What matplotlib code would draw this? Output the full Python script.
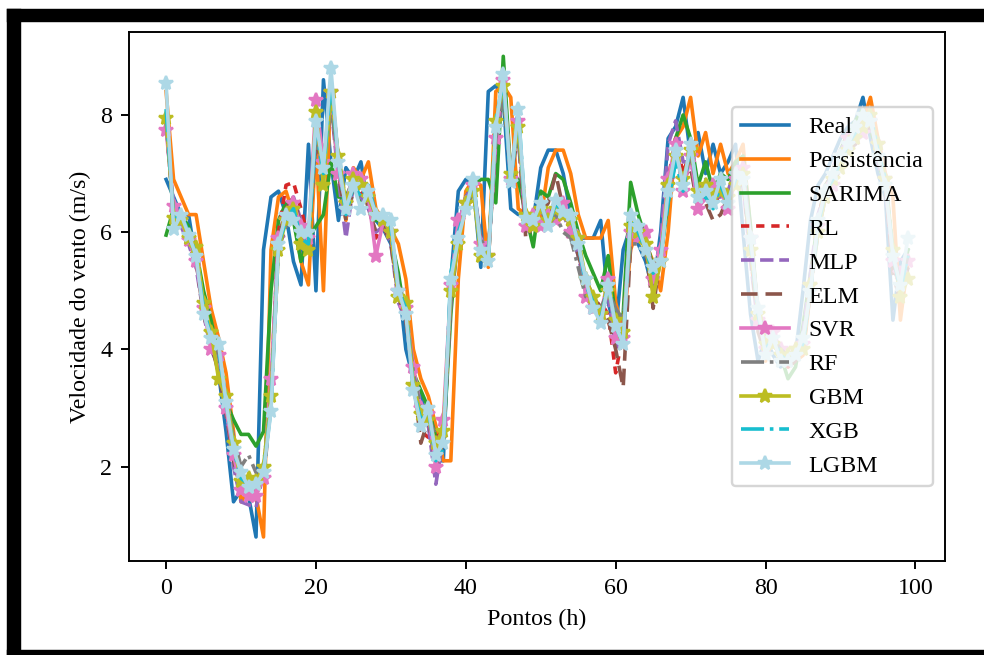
import matplotlib
matplotlib.use("Agg")
import matplotlib.pyplot as plt

plt.rcParams['font.family'] = 'serif'
plt.rcParams['font.serif'] = ['Liberation Serif', 'DejaVu Serif']

pontos = list(range(100))

real = [6.9, 6.6, 6.3, 6.3, 5.5, 4.7, 4.2, 3.6, 2.6, 1.4,
        1.6, 1.5, 0.8, 5.7, 6.6, 6.7, 6.3, 5.5, 5.1, 7.5,
        5.0, 8.6, 7.2, 6.2, 7.1, 6.9, 7.2, 6.4, 6.2, 6.05,
        5.8, 5.2, 4.0, 3.5, 3.2, 2.7, 2.1, 2.1, 5.2, 6.7,
        6.9, 6.8, 5.4, 8.4, 8.5, 8.3, 6.4, 6.3, 6.3, 6.2,
        7.1, 7.4, 7.4, 7.0, 6.3, 5.9, 5.9, 5.9, 6.2, 4.8,
        4.3, 5.7, 6.1, 5.8, 5.5, 5.0, 6.0, 7.6, 7.8, 8.3,
        7.3, 7.7, 7.0, 7.5, 7.0, 7.2, 7.5, 6.0, 4.6, 3.8,
        4.2, 3.9, 3.7, 3.8, 3.9, 5.0, 6.2, 6.8, 7.0, 7.3,
        7.6, 7.8, 7.9, 8.3, 7.6, 7.0, 6.6, 4.5, 5.5, 5.7]

persistencia = [8.4, 6.9, 6.6, 6.3, 6.3, 5.5, 4.7, 4.2, 3.6, 2.6,
                1.4, 1.6, 1.5, 0.8, 5.7, 6.6, 6.7, 6.3, 5.5, 5.1,
                7.5, 5.0, 8.6, 7.2, 6.2, 7.1, 6.9, 7.2, 6.4, 6.2,
                6.05, 5.8, 5.2, 4.0, 3.5, 3.2, 2.7, 2.1, 2.1, 5.2,
                6.7, 6.9, 6.8, 5.4, 8.4, 8.5, 8.3, 6.4, 6.3, 6.3,
                6.2, 7.1, 7.4, 7.4, 7.0, 6.3, 5.9, 5.9, 5.9, 6.2,
                4.8, 4.3, 5.7, 6.1, 5.8, 5.5, 5.0, 6.0, 7.6, 7.8,
                8.3, 7.3, 7.7, 7.0, 7.5, 7.0, 7.2, 7.5, 6.0, 4.6,
                3.8, 4.2, 3.9, 3.7, 3.8, 3.9, 5.0, 6.2, 6.8, 7.0,
                7.3, 7.6, 7.8, 7.9, 8.3, 7.6, 7.0, 6.6, 4.5, 5.5]

sarima = [5.95, 6.4, 6.3, 6.1, 5.7, 5.0, 4.5, 3.9, 3.1, 2.8,
          2.55, 2.55, 2.35, 2.6, 5.0, 6.2, 6.5, 6.2, 5.5, 5.9,
          6.1, 6.3, 7.2, 6.6, 6.6, 6.9, 6.5, 6.7, 6.2, 6.2,
          5.9, 5.3, 4.5, 3.6, 3.3, 3.0, 2.5, 2.4, 4.6, 6.1,
          6.6, 6.8, 6.9, 6.9, 6.5, 9.0, 7.0, 6.9, 6.3, 5.75,
          6.7, 6.6, 7.0, 6.9, 6.5, 6.0, 5.6, 5.3, 5.0, 5.6,
          4.5, 4.6, 6.85, 6.3, 5.9, 5.4, 5.6, 6.5, 7.6, 8.0,
          7.6, 6.8, 7.2, 6.7, 7.0, 6.9, 7.2, 7.3, 6.1, 4.6,
          4.0, 4.1, 3.9, 3.5, 3.7, 4.4, 5.3, 6.2, 6.8, 7.0,
          7.4, 7.7, 7.9, 8.1, 7.8, 7.2, 6.8, 5.6, 5.0, 5.7]

rl = [7.9, 6.3, 6.2, 5.8, 5.5, 4.8, 4.1, 3.8, 3.0, 2.2,
      1.7, 1.6, 1.6, 1.8, 3.3, 6.0, 6.8, 6.85, 6.4, 5.9,
      7.6, 7.1, 8.3, 7.1, 6.3, 6.9, 6.7, 6.5, 5.9, 6.2,
      5.9, 4.9, 4.6, 3.4, 2.6, 2.5, 2.5, 2.6, 4.9, 6.0,
      6.5, 6.8, 5.8, 5.6, 7.7, 8.5, 7.0, 7.8, 6.2, 6.3,
      6.4, 6.2, 6.6, 6.2, 6.1, 5.7, 5.0, 4.7, 4.8, 4.6,
      3.6, 4.3, 6.2, 5.9, 5.8, 5.2, 5.5, 6.9, 7.6, 7.0,
      7.4, 6.5, 6.8, 6.4, 6.7, 6.6, 7.0, 6.9, 5.6, 4.5,
      4.1, 4.3, 3.9, 3.7, 3.9, 4.2, 5.2, 6.2, 6.8, 7.0,
      7.3, 7.6, 7.8, 7.8, 7.9, 7.3, 6.8, 5.5, 5.0, 5.4]

mlp = [7.8, 6.4, 6.1, 5.8, 5.4, 4.6, 4.0, 3.7, 2.9, 2.0,
       1.4, 1.35, 1.3, 1.9, 3.3, 5.9, 6.3, 6.6, 6.2, 5.9,
       7.7, 6.9, 8.2, 6.9, 5.9, 6.8, 6.6, 6.4, 6.0, 6.1,
       5.8, 4.8, 4.5, 3.5, 2.7, 2.7, 1.7, 2.5, 4.8, 6.1,
       6.6, 6.8, 5.9, 5.7, 7.5, 8.4, 7.1, 7.6, 6.0, 6.3,
       6.2, 6.3, 6.4, 6.3, 6.0, 5.6, 5.0, 4.6, 4.6, 4.9,
       4.0, 4.4, 6.1, 6.2, 5.9, 5.1, 5.8, 7.5, 7.9, 7.2,
       7.2, 6.7, 6.9, 6.6, 6.6, 6.7, 7.1, 6.8, 5.5, 4.4,
       4.2, 4.2, 3.8, 3.8, 4.0, 4.3, 5.3, 6.3, 6.7, 7.1,
       7.4, 7.6, 7.7, 7.9, 7.8, 7.2, 6.7, 5.4, 5.1, 5.5]

elm = [7.9, 6.3, 6.3, 5.9, 5.5, 4.6, 4.1, 3.6, 2.9, 2.1,
       1.6, 1.7, 1.6, 1.7, 3.2, 5.9, 6.4, 6.6, 6.1, 5.8,
       7.6, 7.0, 8.3, 7.0, 6.2, 6.7, 6.9, 6.4, 6.0, 6.1,
       5.8, 4.9, 4.5, 3.5, 2.4, 2.8, 2.0, 2.4, 4.9, 6.1,
       6.4, 6.7, 5.9, 5.5, 7.6, 8.5, 6.9, 7.7, 5.9, 6.1,
       6.3, 6.5, 7.0, 6.4, 6.1, 5.6, 5.2, 4.9, 4.7, 4.5,
       4.0, 3.35, 5.8, 6.0, 5.7, 4.7, 5.6, 6.7, 7.4, 6.9,
       7.1, 6.4, 6.5, 6.2, 6.3, 6.6, 6.9, 6.8, 5.7, 4.3,
       3.9, 4.1, 4.0, 3.7, 3.8, 4.0, 5.0, 6.0, 6.6, 6.8,
       7.1, 7.4, 7.5, 7.7, 7.8, 7.3, 6.8, 5.3, 4.8, 5.4]

svr = [7.75, 6.45, 6.2, 5.87, 5.5, 4.7, 4.0, 3.9, 3.0, 2.2,
       1.6, 1.5, 1.5, 1.8, 3.5, 5.9, 6.2, 6.5, 6.1, 5.9,
       8.25, 7.2, 8.4, 7.0, 6.5, 7.0, 6.9, 6.6, 5.6, 6.2,
       6.0, 5.0, 4.7, 3.7, 3.0, 2.9, 2.0, 2.8, 5.1, 6.2,
       6.5, 6.8, 5.8, 5.6, 7.6, 8.6, 6.9, 7.9, 6.1, 6.3,
       6.1, 6.3, 6.2, 6.5, 6.0, 5.9, 4.9, 4.7, 4.6, 5.2,
       4.2, 4.2, 6.0, 5.9, 6.0, 5.2, 5.7, 6.9, 7.5, 6.7,
       7.3, 6.4, 6.6, 6.8, 6.7, 6.4, 6.9, 7.1, 5.9, 4.5,
       4.0, 4.3, 4.0, 3.9, 4.0, 4.1, 5.1, 6.1, 6.6, 6.8,
       7.3, 7.6, 7.6, 7.7, 7.9, 7.5, 6.9, 5.5, 5.3, 5.5]

rf = [7.9, 6.3, 6.2, 5.9, 5.6, 4.8, 4.2, 3.9, 3.2, 2.5,
      2.0, 2.2, 1.9, 2.0, 3.2, 5.7, 6.1, 6.2, 6.0, 5.9,
      7.5, 7.3, 8.1, 7.3, 6.5, 6.7, 6.6, 6.6, 6.3, 6.2,
      6.0, 5.1, 4.7, 3.6, 3.0, 2.9, 2.5, 2.5, 4.8, 5.9,
      6.4, 6.7, 5.9, 5.6, 7.6, 8.3, 7.1, 7.6, 6.3, 6.2,
      6.4, 6.1, 6.3, 6.0, 5.9, 5.4, 4.9, 4.8, 4.7, 5.0,
      4.7, 4.5, 5.8, 5.8, 5.6, 5.4, 5.6, 6.6, 7.2, 6.9,
      7.3, 6.7, 6.7, 6.6, 6.8, 6.6, 6.9, 6.9, 5.9, 4.7,
      4.2, 4.2, 4.0, 3.9, 4.0, 4.2, 5.0, 6.0, 6.6, 6.9,
      7.1, 7.4, 7.6, 7.8, 7.9, 7.4, 6.9, 5.7, 5.1, 5.6]

gbm = [7.95, 6.25, 6.2, 5.9, 5.75, 4.8, 4.3, 3.5, 3.2, 2.4,
       1.75, 1.8, 1.75, 2.0, 3.2, 5.7, 6.2, 6.4, 5.8, 5.7,
       8.05, 6.8, 8.4, 7.3, 6.5, 6.9, 6.8, 6.6, 6.3, 6.2,
       6.0, 4.9, 4.8, 3.4, 2.9, 2.8, 2.4, 2.6, 5.0, 5.8,
       6.5, 6.7, 5.6, 5.6, 7.9, 8.5, 7.0, 7.8, 6.3, 6.1,
       6.4, 6.2, 6.4, 6.3, 6.2, 5.9, 5.2, 4.9, 4.6, 5.0,
       4.5, 4.3, 6.1, 6.0, 5.8, 4.9, 5.5, 6.8, 7.3, 6.9,
       7.4, 6.7, 6.8, 6.6, 6.7, 6.6, 6.8, 7.0, 5.7, 4.6,
       4.1, 4.1, 3.9, 3.9, 4.0, 4.0, 5.1, 6.0, 6.6, 6.9,
       7.1, 7.4, 7.6, 7.8, 8.0, 7.5, 6.9, 5.7, 4.9, 5.2]

xgb = [8.1, 6.2, 6.3, 6.0, 5.6, 4.7, 4.2, 4.0, 3.1, 2.3,
       1.8, 1.7, 1.7, 1.9, 3.0, 5.8, 6.2, 6.4, 5.9, 5.8,
       7.8, 7.0, 8.6, 7.2, 6.3, 6.8, 6.6, 6.8, 6.3, 6.3,
       6.1, 5.0, 4.7, 3.3, 2.8, 3.0, 2.1, 2.3, 5.3, 6.0,
       6.4, 6.9, 5.7, 5.5, 7.9, 8.6, 6.8, 8.1, 6.2, 6.2,
       6.5, 6.1, 6.5, 6.3, 6.3, 5.8, 5.1, 4.8, 4.5, 5.1,
       4.4, 4.1, 6.3, 6.0, 5.7, 5.3, 5.6, 6.5, 7.2, 6.7,
       7.5, 6.6, 6.6, 6.4, 6.8, 6.5, 6.9, 7.0, 5.8, 4.6,
       4.0, 4.2, 3.9, 3.8, 3.9, 4.1, 5.0, 6.1, 6.7, 6.9,
       7.2, 7.5, 7.7, 7.9, 8.0, 7.4, 6.9, 5.6, 5.0, 5.6]

lgbm = [8.55, 6.05, 6.3, 5.96, 5.6, 4.6, 4.2, 4.1, 3.1, 2.3,
        1.9, 1.65, 1.7, 1.9, 2.95, 5.8, 6.3, 6.2, 6.0, 6.0,
        7.9, 7.1, 8.8, 7.2, 6.4, 6.8, 6.4, 6.7, 6.3, 6.3,
        6.2, 5.0, 4.6, 3.3, 2.7, 3.0, 2.2, 2.4, 5.2, 5.9,
        6.4, 6.9, 5.7, 5.5, 7.8, 8.7, 6.85, 8.1, 6.25, 6.2,
        6.5, 6.1, 6.55, 6.35, 6.3, 5.8, 5.2, 4.7, 4.45, 5.1,
        4.4, 4.1, 6.3, 6.1, 5.7, 5.4, 5.5, 6.7, 7.4, 6.8,
        7.5, 6.6, 6.7, 6.5, 6.9, 6.5, 7.0, 6.9, 5.9, 4.7,
        3.9, 4.2, 3.8, 3.8, 3.9, 4.2, 5.0, 6.2, 6.7, 7.0,
        7.3, 7.5, 7.8, 8.0, 7.9, 7.3, 6.8, 5.6, 5.1, 5.9]

W, H, DPI = 984, 655, 173
fig = plt.figure(figsize=(W / DPI, H / DPI), dpi=DPI)
ax = fig.add_axes([129 / W, 1 - 561 / H, (945 - 129) / W, (561 - 32.3) / H])

# black frame of the original screenshot
fig.add_artist(plt.Rectangle((8 / W, 1 - 21 / H), 1, 11 / H,
                             transform=fig.transFigure, color='black'))
fig.add_artist(plt.Rectangle((8 / W, 0), 12 / W, 1 - 10 / H,
                             transform=fig.transFigure, color='black'))
fig.add_artist(plt.Rectangle((8 / W, 0), 1, 4 / H,
                             transform=fig.transFigure, color='black'))

ax.plot(pontos, real, '-', label='Real')
ax.plot(pontos, persistencia, '-', label='Persistência')
ax.plot(pontos, sarima, '-', label='SARIMA')
ax.plot(pontos, rl, '--', dashes=(2.3, 1.9), label='RL')
ax.plot(pontos, mlp, '--', label='MLP')
ax.plot(pontos, elm, '--', dashes=(4.6, 2.2), label='ELM')
ax.plot(pontos, svr, '-*', label='SVR')
ax.plot(pontos, rf, '-.', label='RF')
ax.plot(pontos, gbm, '-*', label='GBM')
ax.plot(pontos, xgb, '-.', label='XGB')
ax.plot(pontos, lgbm, '-*', color='lightblue', label='LGBM')

ax.set_xlabel('Pontos (h)')
ax.set_ylabel('Velocidade do vento (m/s)')
ax.legend(loc='center right')

fig.savefig('out.png', dpi=DPI)
